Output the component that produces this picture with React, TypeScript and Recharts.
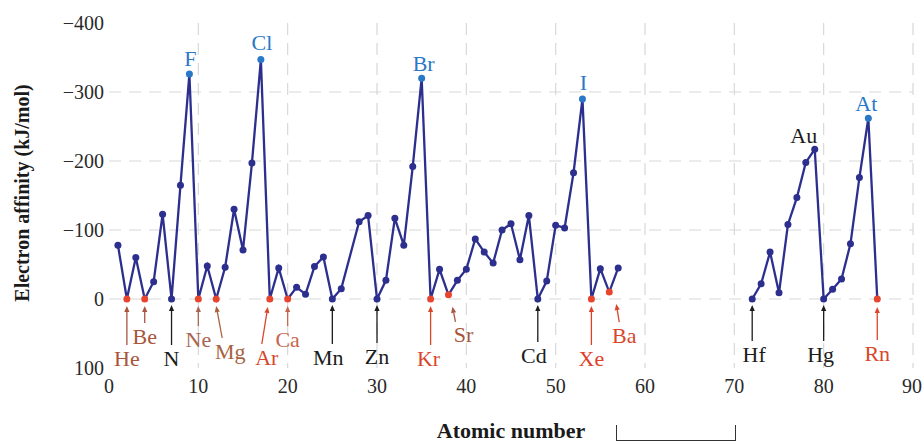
import { LineChart, Line, XAxis, YAxis, CartesianGrid, Label } from "recharts"

// atomic numbers that are plotted (Co and the lanthanides are not shown)
const atomicNumbers = [
  1, 2, 3, 4, 5, 6, 7, 8, 9, 10, 11, 12, 13, 14, 15, 16, 17, 18, 19, 20,
  21, 22, 23, 24, 25, 26, 28, 29, 30, 31, 32, 33, 34, 35, 36, 37, 38, 39, 40,
  41, 42, 43, 44, 45, 46, 47, 48, 49, 50, 51, 52, 53, 54, 55, 56, 57,
  72, 73, 74, 75, 76, 77, 78, 79, 80, 81, 82, 83, 84, 85, 86,
]
const symbols = [
  "H", "He", "Li", "Be", "B", "C", "N", "O", "F", "Ne", "Na", "Mg", "Al", "Si", "P", "S", "Cl", "Ar", "K", "Ca",
  "Sc", "Ti", "V", "Cr", "Mn", "Fe", "Ni", "Cu", "Zn", "Ga", "Ge", "As", "Se", "Br", "Kr", "Rb", "Sr", "Y", "Zr",
  "Nb", "Mo", "Tc", "Ru", "Rh", "Pd", "Ag", "Cd", "In", "Sn", "Sb", "Te", "I", "Xe", "Cs", "Ba", "La",
  "Hf", "Ta", "W", "Re", "Os", "Ir", "Pt", "Au", "Hg", "Tl", "Pb", "Bi", "Po", "At", "Rn",
]
// electron affinity, kJ/mol
const affinity = [
  -78, 0, -60, 0, -25, -123, 0, -165, -326, 0, -48, 0, -46, -130, -71, -197, -347, 0, -45, 0,
  -17, -7, -47, -61, 0, -15, -112, -121, 0, -27, -117, -78, -192, -320, 0, -43, -6, -27, -43,
  -87, -68, -52, -100, -109, -57, -121, 0, -26, -107, -103, -183, -290, 0, -44, -10, -45,
  0, -22, -68, -9, -108, -147, -198, -217, 0, -14, -29, -80, -176, -262, 0,
]
const gapAt = 64

const xTicks = [0, 10, 20, 30, 40, 50, 60, 70, 80, 90]
const yTicks = [-400, -300, -200, -100, 0, 100]

const redDots = ["He", "Be", "Ne", "Mg", "Ar", "Ca", "Kr", "Sr", "Xe", "Ba", "Rn"]
const blueDots = ["F", "Cl", "Br", "I", "At"]

const NAVY = "#2c2f8e"
const RED_DOT = "#e8452f"
const BLUE = "#2a78c8"
const BLACK = "#1c1c1c"
const BROWN = "#a8553d"
const RED = "#d8472b"

type Note = { color: string; dx: number; dy: number; arrow?: [number, number, number] }

// label placement relative to the point (arrow: start dx, tip dx, tip dy)
const notes: Record<string, Note> = {
  He: { color: BROWN, dx: 0, dy: 59, arrow: [0, 0, 7] },
  Be: { color: BROWN, dx: 0, dy: 37, arrow: [0, 0, 7] },
  N: { color: BLACK, dx: 0, dy: 59, arrow: [0, 0, 6] },
  F: { color: BLUE, dx: 1, dy: -16 },
  Ne: { color: "#a86552", dx: 0, dy: 40, arrow: [0, 0, 7] },
  Mg: { color: "#a8623f", dx: 14, dy: 52, arrow: [6, 0, 7] },
  Cl: { color: BLUE, dx: 1, dy: -17 },
  Ar: { color: RED, dx: -3, dy: 58, arrow: [-8, -2, 8] },
  Ca: { color: "#c9654f", dx: 0, dy: 40, arrow: [0, 0, 7] },
  Mn: { color: BLACK, dx: -4, dy: 58, arrow: [0, 0, 6] },
  Zn: { color: BLACK, dx: 0, dy: 57, arrow: [0, 0, 6] },
  Br: { color: BLUE, dx: 2, dy: -15 },
  Kr: { color: RED, dx: -2, dy: 59, arrow: [0, 0, 7] },
  Sr: { color: BROWN, dx: 15, dy: 40, arrow: [7, 4, 12] },
  Cd: { color: BLACK, dx: -4, dy: 56, arrow: [0, 0, 6] },
  I: { color: BLUE, dx: 1, dy: -16 },
  Xe: { color: "#e0402a", dx: 0, dy: 59, arrow: [0, 0, 7] },
  Ba: { color: RED, dx: 15, dy: 43, arrow: [10, 7, 12] },
  Hf: { color: BLACK, dx: 2, dy: 55, arrow: [0, 0, 6] },
  Au: { color: BLACK, dx: -11, dy: -14 },
  Hg: { color: BLACK, dx: -3, dy: 55, arrow: [0, 0, 6] },
  At: { color: BLUE, dx: -2, dy: -15 },
  Rn: { color: RED, dx: 0, dy: 54, arrow: [0, 0, 8] },
}

const data: { z: number; sym: string; ea: number | null }[] = []
atomicNumbers.forEach((z, i) => {
  if (z > gapAt && data.length && (data[data.length - 1].z as number) < gapAt) {
    data.push({ z: gapAt, sym: "", ea: null })
  }
  data.push({ z, sym: symbols[i], ea: affinity[i] })
})

const fmtY = (v: number) => (v < 0 ? `\u2212${Math.abs(v)}` : `${v}`)

const SERIF = "'Liberation Serif', 'DejaVu Serif', serif"

function Arrow({ x1, y1, x2, y2, color }: { x1: number; y1: number; x2: number; y2: number; color: string }) {
  const len = Math.hypot(x2 - x1, y2 - y1) || 1
  const ux = (x2 - x1) / len
  const uy = (y2 - y1) / len
  const bx = x2 - ux * 6
  const by = y2 - uy * 6
  const px = -uy * 2.6
  const py = ux * 2.6
  return (
    <g>
      <line x1={x1} y1={y1} x2={bx} y2={by} stroke={color} strokeWidth={1.3} />
      <polygon points={`${x2},${y2} ${bx + px},${by + py} ${bx - px},${by - py}`} fill={color} />
    </g>
  )
}

function Dot(props: any) {
  const { cx, cy, payload, index } = props
  if (cx == null || cy == null || payload == null || payload.ea == null) return <g key={`d${index}`} />
  const fill = redDots.includes(payload.sym) ? RED_DOT : blueDots.includes(payload.sym) ? BLUE : NAVY
  const note = notes[payload.sym]
  return (
    <g key={`d${index}`}>
      <circle cx={cx} cy={cy} r={3.5} fill={fill} />
      {note && note.arrow && (
        <Arrow
          x1={cx + note.arrow[0]}
          y1={cy + note.dy - 13}
          x2={cx + note.arrow[1]}
          y2={cy + note.arrow[2]}
          color={note.color}
        />
      )}
      {note && (
        <text
          x={cx + note.dx}
          y={cy + note.dy}
          textAnchor="middle"
          dominantBaseline="central"
          fontFamily={SERIF}
          fontSize={22}
          fill={note.color}
        >
          {payload.sym}
        </text>
      )}
    </g>
  )
}

export default function App() {
  return (
    <div style={{ position: "absolute", left: 0, top: 0, width: 922, height: 442, background: "#fff" }}>
      <LineChart width={922} height={442} data={data} margin={{ top: 23, right: 9, bottom: 0, left: 0 }}>
        <CartesianGrid
          stroke="#d8d8d8"
          strokeDasharray="12 8"
          strokeWidth={1.2}
          verticalValues={[10, 20, 30, 40, 50, 60, 70, 80, 90]}
          horizontalValues={[-300, -200, -100, 0]}
        />
        <XAxis
          dataKey="z"
          type="number"
          domain={[0, 90]}
          ticks={xTicks}
          height={74}
          axisLine={false}
          tickLine={false}
          tickSize={0}
          tickMargin={11}
          tick={{ fontSize: 20, fill: "#2a2a2a", fontFamily: SERIF }}
        >
          <Label
            value="Atomic number"
            position="insideBottom"
            offset={4}
            style={{ fontSize: 22, fontWeight: 700, fill: "#1a1a1a", fontFamily: SERIF }}
          />
        </XAxis>
        <YAxis
          type="number"
          domain={[-400, 100]}
          ticks={yTicks}
          reversed
          width={109}
          axisLine={false}
          tickLine={false}
          tickSize={0}
          tickMargin={5}
          tickFormatter={fmtY}
          tick={{ fontSize: 20, fill: "#2a2a2a", fontFamily: SERIF }}
        >
          <Label
            content={() => (
              <text
                x={22}
                y={193}
                transform="rotate(-90 22 193)"
                textAnchor="middle"
                dominantBaseline="central"
                fontFamily={SERIF}
                fontSize={20}
                fontWeight={700}
                fill="#1a1a1a"
              >
                Electron affinity (kJ/mol)
              </text>
            )}
          />
        </YAxis>
        <Line
          dataKey="ea"
          stroke={NAVY}
          strokeWidth={2.3}
          dot={Dot}
          activeDot={false}
          isAnimationActive={false}
        />
      </LineChart>
      <div
        style={{
          position: "absolute",
          left: 616,
          top: 425,
          width: 118,
          height: 15,
          borderLeft: "1.5px solid #333",
          borderRight: "1.5px solid #333",
          borderBottom: "1.5px solid #333",
        }}
      />
    </div>
  )
}
